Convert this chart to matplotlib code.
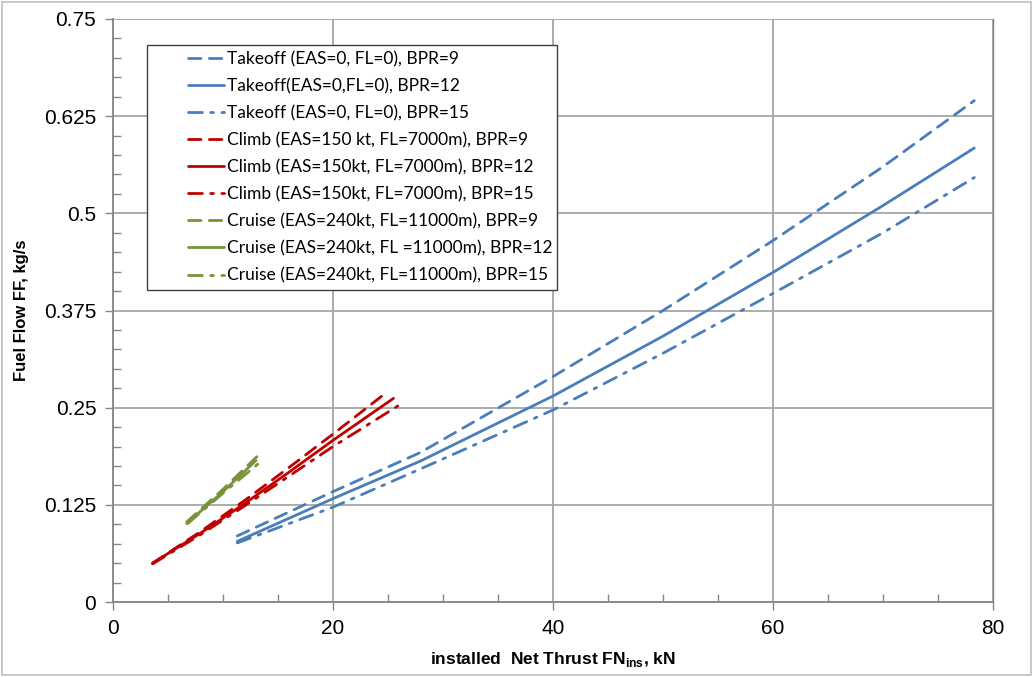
import matplotlib
matplotlib.use("Agg")
import matplotlib.pyplot as plt
from matplotlib.ticker import MultipleLocator, FixedLocator, FuncFormatter
from matplotlib.patches import Rectangle

# ---- data ----
to9_x = [11.3, 20, 27.9, 40, 50, 60, 70, 78.3]
to9_y = [0.085, 0.142, 0.192, 0.290, 0.375, 0.465, 0.560, 0.645]
to12_x = [11.3, 20, 27.9, 40, 50, 60, 70, 78.3]
to12_y = [0.078, 0.133, 0.181, 0.265, 0.342, 0.424, 0.510, 0.584]
to15_x = [11.3, 20, 27.6, 40, 50, 60, 70, 78.3]
to15_y = [0.076, 0.122, 0.169, 0.247, 0.320, 0.397, 0.475, 0.546]

cl9_x = [3.6, 8, 12, 16, 20, 24.9]
cl9_y = [0.050, 0.091, 0.131, 0.173, 0.216, 0.270]
cl12_x = [3.6, 8, 12, 16, 20, 25.5]
cl12_y = [0.050, 0.089, 0.127, 0.167, 0.208, 0.262]
cl15_x = [3.6, 8, 12, 16, 20, 26.1]
cl15_y = [0.049, 0.087, 0.124, 0.162, 0.200, 0.254]

cr9_x = [6.7, 10, 13.3]
cr9_y = [0.103, 0.145, 0.190]
cr12_x = [6.7, 10, 13.0]
cr12_y = [0.101, 0.142, 0.182]
cr15_x = [6.8, 10, 13.3]
cr15_y = [0.101, 0.140, 0.179]

labels = [
    "Takeoff (EAS=0, FL=0), BPR=9",
    "Takeoff(EAS=0,FL=0), BPR=12",
    "Takeoff (EAS=0, FL=0), BPR=15",
    "Climb (EAS=150 kt, FL=7000m), BPR=9",
    "Climb (EAS=150kt, FL=7000m), BPR=12",
    "Climb (EAS=150kt, FL=7000m), BPR=15",
    "Cruise (EAS=240kt, FL=11000m), BPR=9",
    "Cruise (EAS=240kt, FL =11000m), BPR=12",
    "Cruise (EAS=240kt, FL=11000m), BPR=15",
]
y_ticks = [0, 0.125, 0.25, 0.375, 0.5, 0.625, 0.75]
y_tick_labels = ["0", "0.125", "0.25", "0.375", "0.5", "0.625", "0.75"]
x_ticks = [0, 20, 40, 60, 80]

# ---- styling ----
BLUE = "#4A7EBB"
RED = "#C00000"
GREEN = "#77933C"
DASH = (0, (4.5, 3))
DASHDOT = (0, (5, 3, 1, 3))

fig = plt.figure(figsize=(10.33, 6.77), dpi=100)
L, R, B, T = 113, 993, 602, 19
ax = fig.add_axes([L / 1033, 1 - B / 677, (R - L) / 1033, (B - T) / 677])


def ax_x(px):
    return (px - L) / (R - L)


def ax_y(py):
    return (B - py) / (B - T)


series = [
    (to9_x, to9_y, BLUE, DASH),
    (to12_x, to12_y, BLUE, "-"),
    (to15_x, to15_y, BLUE, DASHDOT),
    (cl9_x, cl9_y, RED, DASH),
    (cl12_x, cl12_y, RED, "-"),
    (cl15_x, cl15_y, RED, DASHDOT),
    (cr9_x, cr9_y, GREEN, DASH),
    (cr12_x, cr12_y, GREEN, "-"),
    (cr15_x, cr15_y, GREEN, DASHDOT),
]
for (xs, ys, c, ls), lab in zip(series, labels):
    ax.plot(xs, ys, color=c, linestyle=ls, linewidth=2.0, label=lab,
            solid_capstyle="round", dash_capstyle="round")

ax.set_xlim(0, 80)
ax.set_ylim(0, 0.75)
ax.xaxis.set_major_locator(FixedLocator(x_ticks))
ax.xaxis.set_minor_locator(MultipleLocator(5))
ax.yaxis.set_major_locator(FixedLocator(y_ticks))
ax.yaxis.set_major_formatter(FuncFormatter(
    lambda v, p: y_tick_labels[y_ticks.index(round(v, 3))] if round(v, 3) in y_ticks else ""))
ax.yaxis.set_minor_locator(MultipleLocator(0.025))

ax.grid(True, which="major", color="#A6A6A6", linewidth=1.3)
ax.set_axisbelow(True)
for s in ax.spines.values():
    s.set_color("#868686")
    s.set_linewidth(1.0)
ax.spines["top"].set_visible(False)
ax.spines["left"].set_linewidth(1.3)
ax.spines["bottom"].set_linewidth(1.3)

ax.tick_params(which="major", direction="out", length=6, width=1.0, color="#868686",
               labelsize=15, pad=6)
ax.tick_params(which="minor", direction="in", length=6, width=1.0, color="#868686")
for t in ax.get_xticklabels() + ax.get_yticklabels():
    t.set_fontfamily("Liberation Sans")

ax.set_xlabel("installed  Net Thrust FN$_{\\mathregular{ins}}$, kN", fontsize=12.5,
              fontweight="bold", family="Liberation Sans")
ax.set_ylabel("Fuel Flow FF, kg/s", fontsize=12, fontweight="bold",
              family="Liberation Sans")
ax.xaxis.set_label_coords(0.5, -0.082)
ax.yaxis.set_label_coords(-0.095, 0.5)

# legend frame (white box hiding the grid)
ax.add_patch(Rectangle((ax_x(147), ax_y(290)), ax_x(557) - ax_x(147), ax_y(45) - ax_y(290),
                       transform=ax.transAxes, facecolor="white", edgecolor="#404040",
                       linewidth=1.0, zorder=5))
leg = ax.legend(loc="upper left", bbox_to_anchor=(ax_x(188), ax_y(51)),
                prop={"family": "Lato", "size": 12.5}, frameon=False,
                handlelength=2.1, handletextpad=0.17, labelspacing=0.63,
                borderpad=0, borderaxespad=0)
leg.set_zorder(6)

fig.patches.append(Rectangle((0.002, 0.003), 0.996, 0.994, transform=fig.transFigure,
                             fill=False, edgecolor="#BFBFBF", linewidth=1.2))

fig.savefig("out.png", dpi=100)
